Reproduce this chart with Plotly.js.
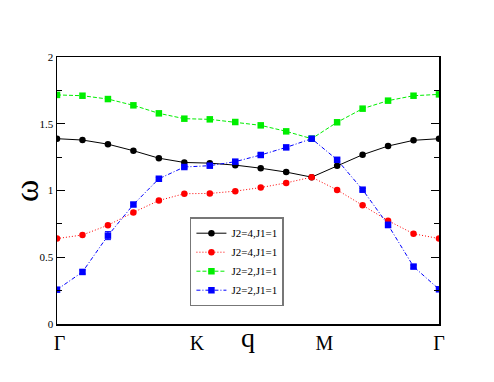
<!DOCTYPE html>
<html>
<head>
<meta charset="utf-8">
<script src="https://cdn.plot.ly/plotly-3.0.1.min.js"></script>
<style>
  html, body { margin: 0; padding: 0; background: #fff; }
  #viz { width: 494px; height: 382px; }
</style>
</head>
<body>
<div id="viz"></div>
<script>
// path through the Brillouin zone, one point per q step
const qIndex = [0, 1, 2, 3, 4, 5, 6, 7, 8, 9, 10, 11, 12, 13, 14, 15];
const qTickPos = [0.1, 5.5, 10.5, 15];
const qTickText = ['Γ', 'K', 'M', 'Γ'];

const seriesNames = ['J2=4,J1=1', 'J2=4,J1=1', 'J2=2,J1=1', 'J2=2,J1=1'];

const omegaBlack = [1.388, 1.378, 1.347, 1.298, 1.242, 1.210, 1.205, 1.190, 1.167, 1.138, 1.100, 1.186, 1.268, 1.333, 1.376, 1.388];
const omegaRed = [0.640, 0.667, 0.740, 0.836, 0.925, 0.976, 0.978, 0.995, 1.022, 1.057, 1.100, 1.004, 0.889, 0.774, 0.676, 0.640];
const omegaGreen = [1.716, 1.710, 1.685, 1.638, 1.578, 1.538, 1.533, 1.513, 1.488, 1.443, 1.388, 1.511, 1.613, 1.673, 1.710, 1.720];
const omegaBlue = [0.257, 0.390, 0.662, 0.895, 1.088, 1.176, 1.186, 1.216, 1.266, 1.323, 1.388, 1.230, 1.006, 0.742, 0.430, 0.260];
const errBlue = [0.01, 0.015, 0.03, 0.012, 0.01, 0.01, 0.01, 0.01, 0.01, 0.01, 0.01, 0.012, 0.01, 0.02, 0.012, 0.01];

const serif = '"Liberation Serif", serif';

const mk = (y, name, color, dash, symbol) => ({
  x: qIndex,
  y: y,
  name: name,
  type: 'scatter',
  mode: 'lines+markers',
  line: { color: color, width: 1, dash: dash },
  marker: { color: color, size: 6.5, symbol: symbol }
});

const data = [
  mk(omegaBlack, seriesNames[0], '#000000', 'solid', 'circle'),
  mk(omegaRed, seriesNames[1], '#ff0000', '1px,2px', 'circle'),
  mk(omegaGreen, seriesNames[2], '#00ee00', '4px,2px', 'square'),
  Object.assign(mk(omegaBlue, seriesNames[3], '#0000ff', '4px,2px,1px,2px', 'square'), {
    error_y: { type: 'data', array: errBlue, visible: true, color: '#0000ff', thickness: 1, width: 3 }
  })
];

const layout = {
  width: 494,
  height: 382,
  margin: { l: 57, r: 55, t: 57, b: 58 },
  paper_bgcolor: '#ffffff',
  plot_bgcolor: '#ffffff',
  font: { family: serif, color: '#000' },
  showlegend: true,
  legend: {
    x: 0.348, y: 0.4, xanchor: 'left', yanchor: 'top',
    bgcolor: '#ffffff', bordercolor: '#777777', borderwidth: 1.5,
    font: { family: serif, size: 11, color: '#000' },
    itemwidth: 30, tracegroupgap: 0
  },
  xaxis: {
    range: [0, 15],
    tickmode: 'array',
    tickvals: qTickPos,
    ticktext: qTickText,
    ticks: '',
    showgrid: false,
    zeroline: false,
    showline: true,
    linecolor: '#000',
    linewidth: 1.5,
    mirror: true,
    tickfont: { family: serif, size: 20, color: '#000' }
  },
  yaxis: {
    range: [0, 2],
    dtick: 0.5,
    ticks: 'inside',
    ticklen: 8,
    tickwidth: 1,
    tickcolor: '#000',
    minor: { ticks: 'inside', dtick: 0.25, ticklen: 5, tickcolor: '#000' },
    showgrid: false,
    zeroline: false,
    showline: true,
    linecolor: '#000',
    linewidth: 1.5,
    mirror: 'ticks',
    tickfont: { family: serif, size: 11, color: '#000' }
  },
  annotations: [
    { text: 'q', xref: 'paper', yref: 'paper', x: 0.5, y: -0.052, xanchor: 'center', yanchor: 'middle',
      showarrow: false, font: { family: serif, size: 28, color: '#000' } },
    { text: 'ω', xref: 'paper', yref: 'paper', x: -0.08, y: 0.5, xanchor: 'center', yanchor: 'middle',
      textangle: -90, showarrow: false, font: { family: serif, size: 34, color: '#000' } }
  ]
};

Plotly.newPlot('viz', data, layout, { displayModeBar: false, staticPlot: true });
</script>
</body>
</html>
